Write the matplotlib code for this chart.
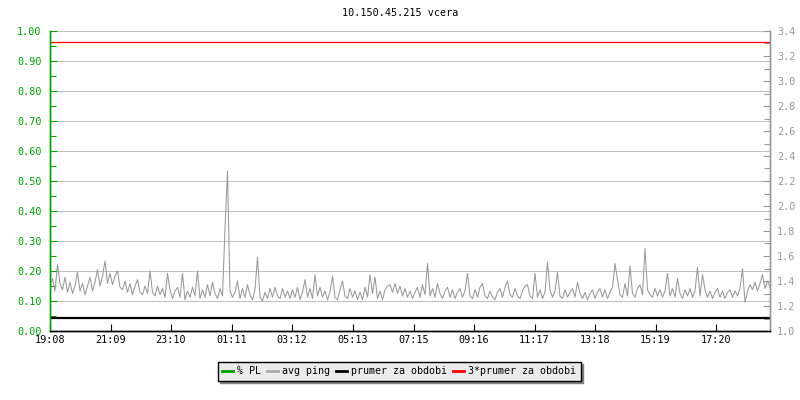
import numpy as np
import matplotlib
matplotlib.use("Agg")
import matplotlib.pyplot as plt
from matplotlib.lines import Line2D
from matplotlib.ticker import MultipleLocator, FormatStrFormatter

plt.rcParams['font.family'] = ['DejaVu Sans Mono']

title = "10.150.45.215 vcera"

# x tick positions in minutes from 19:08, and their labels
tick_minutes = [0, 121, 242, 363, 484, 605, 727, 848, 969, 1090, 1211, 1332]
tick_labels = ["19:08", "21:09", "23:10", "01:11", "03:12", "05:13",
               "07:15", "09:16", "11:17", "13:18", "15:19", "17:20"]
span_minutes = 1440

# avg ping (ms), one sample every 5 minutes, right axis
avg_ping = [
    1.36, 1.42, 1.32, 1.53, 1.38, 1.33, 1.43, 1.31,
    1.39, 1.30, 1.36, 1.47, 1.32, 1.38, 1.29, 1.36,
    1.43, 1.32, 1.39, 1.49, 1.36, 1.44, 1.56, 1.38,
    1.46, 1.37, 1.44, 1.48, 1.35, 1.33, 1.40, 1.31,
    1.38, 1.29, 1.36, 1.41, 1.31, 1.29, 1.36, 1.30,
    1.48, 1.31, 1.28, 1.36, 1.29, 1.34, 1.27, 1.46,
    1.33, 1.26, 1.32, 1.35, 1.27, 1.46, 1.25, 1.32,
    1.27, 1.35, 1.28, 1.48, 1.26, 1.33, 1.27, 1.37,
    1.28, 1.39, 1.30, 1.26, 1.34, 1.28, 1.82, 2.28,
    1.32, 1.27, 1.31, 1.40, 1.26, 1.34, 1.27, 1.37,
    1.29, 1.25, 1.33, 1.59, 1.27, 1.24, 1.31, 1.26,
    1.34, 1.27, 1.35, 1.28, 1.26, 1.34, 1.27, 1.32,
    1.26, 1.33, 1.27, 1.35, 1.25, 1.31, 1.41, 1.27,
    1.34, 1.26, 1.45, 1.28, 1.35, 1.27, 1.32, 1.25,
    1.31, 1.44, 1.27, 1.25, 1.33, 1.40, 1.28, 1.26,
    1.34, 1.27, 1.32, 1.25, 1.31, 1.25, 1.35, 1.27,
    1.45, 1.30, 1.43, 1.26, 1.32, 1.25, 1.33, 1.36,
    1.37, 1.31, 1.38, 1.30, 1.36, 1.28, 1.34, 1.27,
    1.32, 1.26, 1.31, 1.35, 1.27, 1.37, 1.29, 1.54,
    1.28, 1.34, 1.27, 1.38, 1.30, 1.26, 1.32, 1.35,
    1.27, 1.33, 1.26, 1.31, 1.34, 1.27, 1.32, 1.46,
    1.28, 1.26, 1.33, 1.27, 1.35, 1.38, 1.28, 1.26,
    1.32, 1.27, 1.25, 1.31, 1.34, 1.27, 1.35, 1.40,
    1.29, 1.27, 1.34, 1.28, 1.26, 1.32, 1.36, 1.37,
    1.28, 1.26, 1.46, 1.27, 1.33, 1.26, 1.31, 1.55,
    1.33, 1.27, 1.32, 1.47, 1.28, 1.26, 1.33, 1.27,
    1.31, 1.34, 1.27, 1.39, 1.30, 1.26, 1.31, 1.25,
    1.30, 1.33, 1.26, 1.31, 1.34, 1.27, 1.33, 1.26,
    1.31, 1.35, 1.54, 1.41, 1.29, 1.27, 1.38, 1.28,
    1.52, 1.30, 1.27, 1.34, 1.37, 1.29, 1.66, 1.33,
    1.29, 1.27, 1.34, 1.28, 1.33, 1.27, 1.32, 1.46,
    1.28, 1.34, 1.27, 1.42, 1.30, 1.26, 1.33, 1.28,
    1.34, 1.27, 1.32, 1.51, 1.28, 1.45, 1.33, 1.27,
    1.32, 1.26, 1.31, 1.34, 1.27, 1.32, 1.26, 1.31,
    1.33, 1.27, 1.32, 1.28, 1.34, 1.50, 1.23, 1.32,
    1.37, 1.33, 1.39, 1.32, 1.38, 1.45, 1.34, 1.40, 1.35,
]
packet_loss = [0.0, 0.0]  # % PL, zero over the whole day
prumer = 1.104
prumer3 = 3.312

green = "#00a000"
gray = "#999999"
grid_gray = "#c0c0c0"

fig = plt.figure(figsize=(8, 4), dpi=100)
ax = fig.add_axes([50 / 800, 69 / 400, 720 / 800, 300 / 400])
ax2 = ax.twinx()

# left axis (% PL)
ax.set_xlim(0, span_minutes)
ax.set_ylim(0, 1)
ax.yaxis.set_major_locator(MultipleLocator(0.1))
ax.yaxis.set_minor_locator(MultipleLocator(0.05))
ax.yaxis.set_major_formatter(FormatStrFormatter("%.2f"))
ax.grid(axis="y", color=grid_gray, lw=0.75)
ax.set_axisbelow(True)
# PL is zero all day, so it sits under the bottom axis line
ax.plot([0, span_minutes], packet_loss, color=green, lw=0.5, zorder=0.5)

ax.set_xticks(tick_minutes)
ax.set_xticklabels(tick_labels)
ax.tick_params(axis="x", direction="in", length=5, width=0.8, color="black",
               labelsize=7.3, pad=3)
ax.tick_params(axis="y", which="major", direction="in", length=5, width=0.8,
               color=green, labelcolor=green, labelsize=7.3, pad=6)
ax.tick_params(axis="y", which="minor", direction="in", length=4, width=0.8,
               color=green)

# right axis (ping)
ax2.set_ylim(1.0, 3.4)
ax2.yaxis.set_major_locator(MultipleLocator(0.2))
ax2.yaxis.set_minor_locator(MultipleLocator(0.1))
ax2.yaxis.set_major_formatter(FormatStrFormatter("%.1f"))
ax2.tick_params(axis="y", which="major", direction="in", length=5, width=0.8,
                color=gray, labelcolor=gray, labelsize=7.3, pad=5)
ax2.tick_params(axis="y", which="minor", direction="in", length=4, width=0.8,
                color=gray)

t = np.linspace(0, span_minutes, len(avg_ping))
ax2.plot(t, avg_ping, color=gray, lw=0.75)
ax2.axhline(prumer, color="black", lw=1.6)
ax2.axhline(prumer3, color="red", lw=0.9)

for a in (ax, ax2):
    a.spines["top"].set_visible(False)
    a.spines["bottom"].set_color("black")
    a.spines["left"].set_color(green)
    a.spines["right"].set_color(gray)
    a.spines["bottom"].set_linewidth(1.0)
    a.spines["left"].set_linewidth(1.0)
    a.spines["right"].set_linewidth(1.0)

fig.text(0.5, 1 - 13 / 400, title, ha="center", va="center", fontsize=7.3)

handles = [
    Line2D([], [], color=green, lw=2),
    Line2D([], [], color="#aaaaaa", lw=2),
    Line2D([], [], color="black", lw=2),
    Line2D([], [], color="red", lw=2),
]
names = ["% PL", "avg ping", "prumer za obdobi", "3*prumer za obdobi"]
leg = fig.legend(handles, names, loc="center", bbox_to_anchor=(399 / 800, 1 - 371 / 400),
                 ncol=4, fontsize=7.2, handlelength=1.1, handletextpad=0.4,
                 columnspacing=0.6, borderpad=0.45, fancybox=False,
                 framealpha=1, shadow={"color": "#808080", "alpha": 1})
leg.get_frame().set_facecolor("#ebebeb")
leg.get_frame().set_edgecolor("black")
leg.get_frame().set_linewidth(1)

fig.savefig("out.png", dpi=100)
